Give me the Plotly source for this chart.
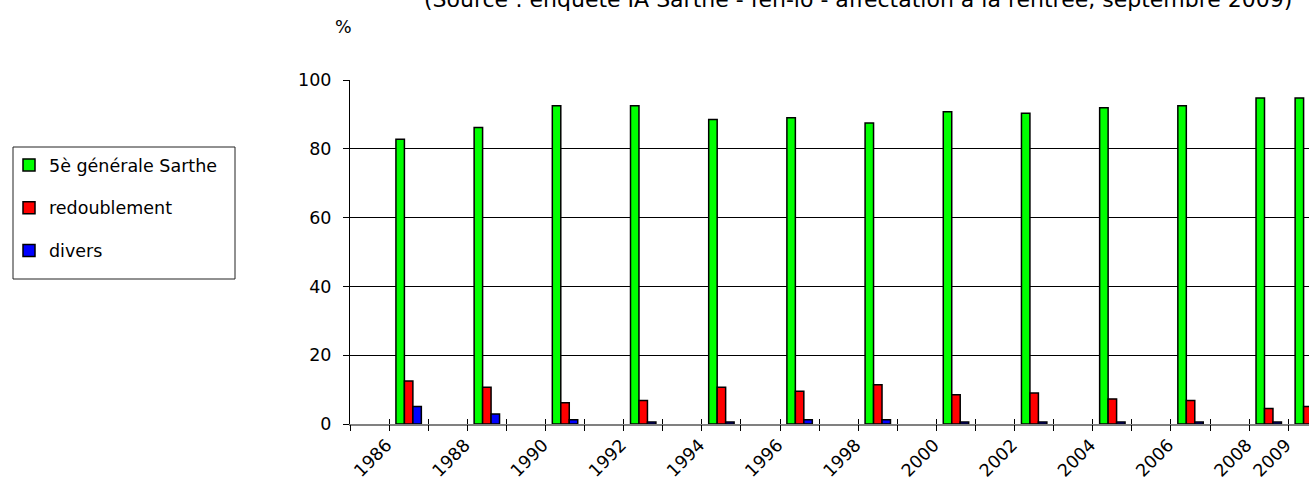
import plotly.graph_objects as go

years = [1986, 1988, 1990, 1992, 1994, 1996, 1998, 2000, 2002, 2004, 2006, 2008, 2009]
generale = [82.8, 86.2, 92.5, 92.5, 88.5, 89.0, 87.5, 90.8, 90.3, 91.9, 92.5, 94.8, 94.8]
redoublement = [12.5, 10.7, 6.2, 6.8, 10.7, 9.5, 11.4, 8.5, 9.0, 7.3, 6.8, 4.5, 5.1]
divers = [5.1, 2.9, 1.2, 0.6, 0.6, 1.2, 1.2, 0.6, 0.6, 0.6, 0.6, 0.6, 0.6]

series_names = ["5è générale Sarthe", "redoublement", "divers"]
series_colors = ["#00FF00", "#FF0000", "#0000FF"]
y_ticks = [0, 20, 40, 60, 80, 100]
label_years = years
bin_edges = [y - 0.5 for y in range(1985, 2011)]

title_text = "(Source : enquête IA Sarthe - fen-io - affectation à la rentrée, septembre 2009)"
unit_text = "%"

FONT = "DejaVu Sans, Verdana, sans-serif"
PW, PH = 959, 344  # plot area size in px
L, T = 350, 80


def px_x(x):
    return (x - L) / PW


def px_y(y):
    return (T + PH - y) / PH


fig = go.Figure()
for name, vals, col in zip(series_names, [generale, redoublement, divers], series_colors):
    fig.add_trace(go.Bar(
        x=years, y=vals, name=name, legendgroup=name,
        marker=dict(color=col, line=dict(color="black", width=1.5)),
        xaxis="x", yaxis="y",
    ))

# helper traces for boundary ticks (crossing the axis)
fig.add_trace(go.Scatter(x=[], y=[], xaxis="x2", yaxis="y", showlegend=False))
fig.add_trace(go.Scatter(x=[], y=[], xaxis="x3", yaxis="y", showlegend=False))

x_range = [1984.5, 2009.03]

fig.update_layout(
    width=1309, height=490,
    margin=dict(l=L, r=0, t=T, b=490 - T - PH, autoexpand=False),
    paper_bgcolor="white", plot_bgcolor="white",
    font=dict(family=FONT, size=17.5, color="black"),
    barmode="group", bargap=0.35, bargroupgap=0,
    showlegend=True,
    legend=dict(
        x=px_x(9), xanchor="left",
        y=px_y(147), yanchor="top",
        borderwidth=0, bgcolor="rgba(0,0,0,0)",
        font=dict(family=FONT, size=17.5),
        tracegroupgap=17,
        traceorder="grouped",
    ),
    shapes=[
        dict(type="rect", xref="paper", yref="paper",
             x0=px_x(13), x1=px_x(235), y0=px_y(147), y1=px_y(279),
             line=dict(color="#222", width=1), fillcolor="white", layer="below"),
    ],
    xaxis=dict(
        range=x_range, tickmode="array", tickvals=label_years,
        ticktext=[str(y) for y in label_years],
        tickangle=-45, ticks="", showgrid=False, zeroline=False,
        showline=True, linecolor="#808080", linewidth=2,
        tickfont=dict(family=FONT, size=17.5),
        automargin=False, ticklabelshift=-22, ticklabelstandoff=2,
    ),
    xaxis2=dict(
        overlaying="x", matches="x", anchor="y", range=x_range,
        tickmode="array", tickvals=bin_edges, showticklabels=False,
        ticks="outside", ticklen=6, tickcolor="black", tickwidth=1,
        showgrid=False, zeroline=False, showline=False, automargin=False,
    ),
    xaxis3=dict(
        overlaying="x", matches="x", anchor="y", range=x_range,
        tickmode="array", tickvals=bin_edges, showticklabels=False,
        ticks="inside", ticklen=5, tickcolor="black", tickwidth=1,
        showgrid=False, zeroline=False, showline=False, automargin=False,
    ),
    yaxis=dict(
        range=[0, 100], tickmode="array", tickvals=y_ticks,
        ticks="outside", ticklen=6, tickcolor="black",
        showline=True, linecolor="black", linewidth=1,
        showgrid=True, gridcolor="black", gridwidth=1,
        zeroline=False,
        tickfont=dict(family=FONT, size=17.5),
        ticklabelstandoff=8, automargin=False,
    ),
    annotations=[
        dict(text=title_text, xref="paper", yref="paper",
             x=px_x(858), y=px_y(14),
             xanchor="center", yanchor="bottom", showarrow=False,
             font=dict(family=FONT, size=22)),
        dict(text=unit_text, xref="paper", yref="paper",
             x=px_x(343), y=px_y(27),
             xanchor="center", yanchor="middle", showarrow=False,
             font=dict(family=FONT, size=17.5)),
    ],
)

fig.write_html(
    "out.html",
    config={"displayModeBar": False, "staticPlot": True},
    post_script="document.body.style.margin='0';document.body.style.overflow='hidden';",
)
